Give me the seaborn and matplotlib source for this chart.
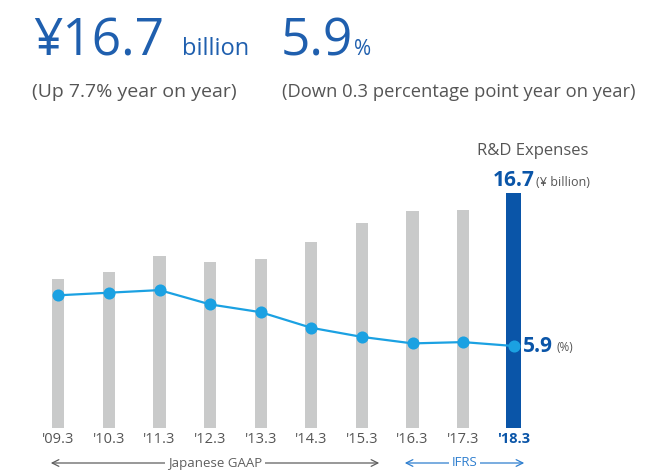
import matplotlib
matplotlib.use("Agg")
import matplotlib.pyplot as plt
import seaborn as sns

years = ["'09.3", "'10.3", "'11.3", "'12.3", "'13.3", "'14.3", "'15.3", "'16.3", "'17.3", "'18.3"]
rd_expenses = [10.6, 11.1, 12.2, 11.8, 12.0, 13.2, 14.6, 15.4, 15.5, 16.7]   # ¥ billion
rd_ratio = [9.8, 10.0, 10.2, 9.1, 8.5, 7.3, 6.6, 6.1, 6.2, 5.9]              # %

sns.set_theme(style="white")
FONT = ["Open Sans", "DejaVu Sans"]
plt.rcParams["font.family"] = FONT

BLUE_TXT = "#1f5fae"
BLUE_BAR = "#0a55a8"
LINE = "#1ba1e2"
GRAY_BAR = "#c9caca"
GRAY_TXT = "#555555"

W, H = 672, 472
fig = plt.figure(figsize=(W / 100, H / 100), dpi=100)

def px(x, y):
    return x / W, 1 - y / H

# axes spanning pixel x 33..539, y 150..428
ax = fig.add_axes([33 / W, (H - 428) / H, 506 / W, 278 / H])
ax2 = ax.twinx()

sns.barplot(x=years[:-1], y=rd_expenses[:-1], order=years, color=GRAY_BAR,
            width=0.24, saturation=1, ax=ax, edgecolor="none")
sns.barplot(x=years[-1:], y=rd_expenses[-1:], order=years, color=BLUE_BAR,
            width=0.29, saturation=1, ax=ax, edgecolor="none")

sns.pointplot(x=years, y=rd_ratio, order=years, color=LINE, markers="o",
              markersize=7.5, linewidth=1.6, ax=ax2, errorbar=None)

ax.set_xlim(-0.5, 9.5)
ax2.set_xlim(-0.5, 9.5)
ax.set_ylim(0, 16.7 * 278 / 235)
pb = 5.9 - (428 - 346) / 13
ax2.set_ylim(pb, pb + 278 / 13)

for a in (ax, ax2):
    for s in a.spines.values():
        s.set_visible(False)
    a.set_yticks([])
    a.set_ylabel("")
    a.set_xlabel("")
    a.grid(False)
ax.patch.set_visible(False)
ax2.patch.set_visible(False)

ax.set_xticks(range(len(years)), labels=years)
ax.tick_params(axis="x", length=0, pad=3, labelsize=10.5, labelcolor=GRAY_TXT)
ax.get_xticklabels()[-1].set_color(BLUE_BAR)
ax.get_xticklabels()[-1].set_fontweight("bold")
ax2.tick_params(axis="x", length=0, labelbottom=False)

# value annotations
ax.annotate("16.7", xy=(9, rd_expenses[-1]), xytext=(0, 5), textcoords="offset points",
            ha="center", va="baseline", fontsize=15, fontweight="bold", color=BLUE_BAR)
ax.annotate("(¥ billion)", xy=(9, rd_expenses[-1]), xytext=(16, 5), textcoords="offset points",
            ha="left", va="baseline", fontsize=9, color=GRAY_TXT)
ax2.annotate("5.9", xy=(9, rd_ratio[-1]), xytext=(7, 0), textcoords="offset points",
             ha="left", va="center", fontsize=15, fontweight="bold", color=BLUE_BAR)
ax2.annotate("(%)", xy=(9, rd_ratio[-1]), xytext=(31, -1), textcoords="offset points",
             ha="left", va="center", fontsize=8.5, color=GRAY_TXT)

fig.text(*px(533, 155), "R&D Expenses", ha="center", va="baseline", fontsize=12, color=GRAY_TXT)

# header
fig.text(*px(33, 55), "¥16.7", ha="left", va="baseline", fontsize=37, color=BLUE_TXT)
fig.text(*px(182, 55), "billion", ha="left", va="baseline", fontsize=17, color=BLUE_TXT)
fig.text(*px(281, 55), "5.9", ha="left", va="baseline", fontsize=37, color=BLUE_TXT)
fig.text(*px(354, 55), "%", ha="left", va="baseline", fontsize=15, color=BLUE_TXT)
fig.text(*px(32, 97), "(Up 7.7% year on year)", ha="left", va="baseline", fontsize=14, color=GRAY_TXT)
fig.text(*px(282, 97), "(Down 0.3 percentage point year on year)", ha="left", va="baseline",
         fontsize=13.2, color=GRAY_TXT)

# accounting standard arrows
def span(x0, x1, y, label, color):
    fig.add_artist(matplotlib.patches.FancyArrowPatch(
        px(x0, y), px(x1, y), transform=fig.transFigure, arrowstyle="<->",
        mutation_scale=12, color=color, lw=0.9))
    fig.text(*px((x0 + x1) / 2, y), label, ha="center", va="center", fontsize=9.5, color=color,
             bbox=dict(facecolor="white", edgecolor="none", pad=2))

span(48, 382, 463, "Japanese GAAP", "#5f5f5f")
span(402, 527, 463, "IFRS", "#2f7fcf")

fig.savefig("out.png", dpi=100)
